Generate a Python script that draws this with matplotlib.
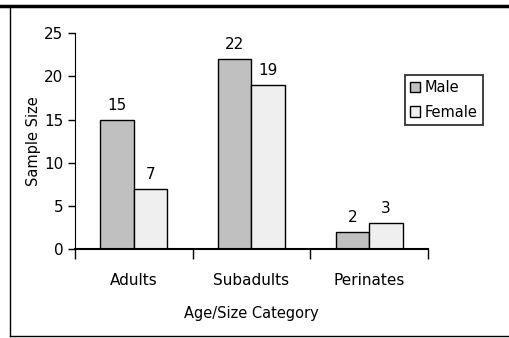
import numpy as np
import matplotlib.pyplot as plt
from matplotlib.lines import Line2D

categories = ['Adults', 'Subadults', 'Perinates']
male = [15, 22, 2]
female = [7, 19, 3]

fig = plt.figure(figsize=(5.1, 3.38), dpi=100)
ax = fig.add_axes([0.147, 0.263, 0.692, 0.639])

x = np.arange(len(categories))
w = 0.285
b1 = ax.bar(x - w / 2, male, w, color='#c0c0c0', edgecolor='black', linewidth=1, label='Male')
b2 = ax.bar(x + w / 2, female, w, color='#efefef', edgecolor='black', linewidth=1, label='Female')

for bars, vals in ((b1, male), (b2, female)):
    for r, v in zip(bars, vals):
        ax.text(r.get_x() + r.get_width() / 2, v + 0.8, str(v), ha='center', va='bottom', fontsize=11)

ax.set_xlim(-0.5, 2.5)
ax.set_ylim(0, 25)
ax.set_yticks([0, 5, 10, 15, 20, 25])
ax.set_xticks(x)
ax.set_xticklabels(categories, fontsize=11)
ax.set_xticks([-0.5, 0.5, 1.5, 2.5], minor=True)
ax.tick_params(axis='x', which='major', length=0, pad=17)
ax.tick_params(axis='x', which='minor', length=7, width=1)
ax.tick_params(axis='y', length=5, width=1, labelsize=11)
for s in ['top', 'right']:
    ax.spines[s].set_visible(False)
ax.spines['bottom'].set_linewidth(1.5)
ax.set_ylabel('Sample Size', fontsize=10.5, labelpad=2)
ax.set_xlabel('Age/Size Category', fontsize=10.5, labelpad=13)

leg = ax.legend(loc='upper left', bbox_to_anchor=(0.935, 0.806), borderaxespad=0, fontsize=10.5,
                frameon=True, fancybox=False, edgecolor='black', handlelength=0.7, handleheight=0.7,
                handletextpad=0.3, borderpad=0.35, labelspacing=0.65)
leg.get_frame().set_linewidth(1.3)

# border of the original figure
fig.add_artist(Line2D([0, 1], [1 - 6 / 338, 1 - 6 / 338], color='black', linewidth=2.5, transform=fig.transFigure))
fig.add_artist(Line2D([10 / 510, 10 / 510], [1 - 7 / 338, 1 - 336 / 338], color='black', linewidth=1, transform=fig.transFigure))
fig.add_artist(Line2D([10 / 510, 1], [1 - 336 / 338, 1 - 336 / 338], color='black', linewidth=1, transform=fig.transFigure))

fig.savefig('out.png', dpi=100)
